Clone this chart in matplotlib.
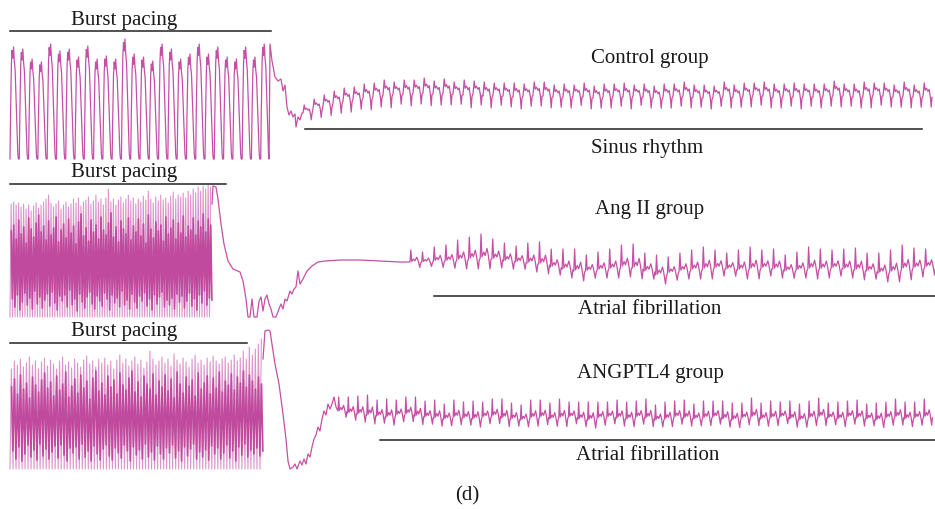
import numpy as np
import matplotlib
matplotlib.use("Agg")
import matplotlib.pyplot as plt

# ---- beat shapes (fraction of period, relative level) ----
pace_shape_x = [0.0, 0.06, 0.15, 0.22, 0.3, 0.38, 0.46, 0.55, 0.7, 0.84, 0.9]
pace_shape_y = [0.0, 0.4, 0.85, 0.97, 0.9, 1.0, 0.88, 0.8, 0.4, 0.05, 0.0]

sinus_shape_x = [0.0, 0.12, 0.22, 0.35, 0.5, 0.62, 0.74, 0.82, 0.9]
sinus_shape_y = [0.0, -1.0, -0.45, -0.6, -0.35, -0.5, 0.1, 0.85, 0.1]

af_shape_x = [0.0, 0.07, 0.15, 0.3, 0.42, 0.58, 0.68, 0.84, 0.92]
af_shape_y = [0.0, -1.0, -0.05, -0.25, -0.1, -0.4, -0.15, 0.45, 0.05]

# ---- Control group ----
ctrl_pace_tops = [48, 50, 60, 63, 45, 52, 50, 58, 47, 60, 57, 60, 40, 55,
                  58, 62, 45, 50, 60, 55, 45, 55, 48, 58, 60, 48, 58, 45]
ctrl_pace_bottom = 160
ctrl_drop_x = [270, 272, 275, 278, 281, 283, 285, 287, 289, 291, 293, 295, 296, 298, 300, 302]
ctrl_drop_y = [45, 62, 78, 82, 80, 92, 86, 108, 116, 112, 118, 115, 128, 118, 121, 114]
ctrl_sinus_base = [114, 110, 107, 104, 102, 100, 99, 97, 96, 95, 95, 94,
                   94, 95, 94, 95, 96, 95, 97, 96, 97, 98, 97, 96,
                   97, 98, 98, 97, 98, 99, 98, 97, 98, 97, 98, 99,
                   98, 97, 97, 98, 99, 98, 97, 98, 97, 96, 97, 98,
                   97, 98, 97, 98, 97, 96, 97, 98, 97, 96, 97, 98, 97, 98, 97]
ctrl_sinus_amp = [8, 10, 11, 12, 13, 12, 14, 13, 15, 12, 14, 13,
                  15, 13, 14, 12, 15, 13, 14, 12, 13, 14, 12, 13,
                  14, 12, 13, 11, 14, 12, 13, 12, 14, 11, 13, 12,
                  13, 12, 14, 12, 13, 11, 14, 12, 13, 12, 14, 13,
                  12, 14, 12, 13, 12, 14, 12, 13, 14, 12, 13, 12, 14, 12, 13]

# ---- Ang II group ----
ang_pace_tops = [205, 203, 206, 204, 208, 205, 210, 206, 212, 207, 204, 209,
                 206, 203, 200, 196, 204, 208, 205, 202, 210, 206, 203, 208,
                 205, 200, 204, 199, 207, 203, 201, 198, 205, 202, 196, 203,
                 200, 206, 199, 190, 203, 200, 206, 201, 198, 204, 200, 196,
                 202, 199, 205, 200, 203, 197, 201, 192, 200, 204, 198, 202,
                 196, 201, 199, 204, 197, 193, 200, 196, 198, 194, 199, 192,
                 196, 190, 194, 188, 192, 187, 190, 186, 188]
ang_pace_bottom = 318
ang_dark_top = [232, 226, 240, 221, 235, 228, 244, 219, 230, 238,
                224, 216, 233, 227, 241, 222, 236, 229, 218, 243,
                231, 225, 239, 220, 234, 227, 245, 223, 215, 237,
                229, 242, 221, 233, 226, 240, 218, 231, 236, 224,
                214, 238, 228, 243, 222, 230, 235, 219, 241, 227,
                233, 220, 237, 225, 244, 216, 230, 239, 223, 232,
                226, 242, 218, 235, 229, 221, 240, 224, 234, 217,
                238, 227, 231, 219, 236, 222, 228, 215, 233, 220, 226]
ang_dark_bot = [300, 308, 296, 311, 303, 294, 306, 299, 310, 292,
                305, 298, 309, 301, 295, 307, 293, 304, 311, 297,
                302, 296, 308, 291, 306, 300, 312, 295, 303, 309,
                298, 293, 305, 310, 297, 302, 307, 294, 300, 311,
                296, 304, 299, 308, 292, 306, 301, 310, 295, 303,
                309, 297, 302, 294, 307, 300, 311, 296, 305, 298,
                293, 308, 301, 306, 299, 310, 295, 303, 297, 309,
                302, 294, 307, 300, 311, 296, 304, 292, 306, 299, 301]
ang_drop_x = [212, 213, 216, 218, 221, 224, 228, 233, 240, 243, 246, 248, 250, 252,
              254, 257, 259, 261, 263, 265, 267, 269, 271, 273, 276, 279, 281, 283,
              285, 287, 290, 292, 294, 296, 298, 300, 303, 307, 312, 318, 325, 340,
              360, 380, 400, 410]
ang_drop_y = [205, 187, 188, 200, 225, 245, 262, 270, 273, 282, 300, 318, 318, 300,
              318, 318, 302, 298, 312, 300, 296, 305, 310, 318, 318, 310, 305, 310,
              300, 302, 292, 295, 290, 288, 272, 285, 280, 272, 267, 263, 262, 261,
              261, 262, 263, 263]
ang_af_base = [263, 263, 262, 262, 261, 260, 259, 260, 262, 263, 264, 265,
               268, 270, 272, 272, 271, 270, 268, 269, 272, 276, 274, 272,
               271, 270, 269, 270, 271, 270, 269, 270, 272, 271, 270, 270,
               269, 270, 271, 272, 274, 273, 270, 269, 268]
ang_af_amp = [12, 10, 14, 16, 20, 22, 24, 20, 18, 16, 20, 22,
              18, 20, 22, 16, 18, 20, 22, 24, 18, 20, 16, 18,
              20, 22, 18, 16, 20, 22, 18, 20, 16, 18, 22, 20,
              18, 20, 22, 18, 20, 22, 24, 20, 18]

# ---- ANGPTL4 group ----
angp_pace_tops = [370, 362, 366, 360, 368, 364, 358, 366, 362, 370, 363, 359,
                  367, 361, 365, 370, 362, 358, 366, 363, 369, 360, 364, 368,
                  361, 357, 365, 362, 368, 360, 364, 359, 366, 362, 370, 361,
                  356, 364, 360, 367, 362, 358, 365, 361, 369, 363, 352, 360,
                  366, 362, 358, 364, 360, 367, 355, 361, 365, 359, 363, 368,
                  360, 356, 364, 361, 366, 359, 363, 357, 362, 365, 360, 358,
                  364, 361, 356, 362, 359, 352, 360, 348, 356, 350, 345, 340]
angp_pace_bottom = 470
angp_dark_top = [388, 380, 395, 376, 390, 384, 399, 378, 386, 393,
                 381, 374, 389, 383, 397, 377, 391, 385, 373, 398,
                 387, 380, 394, 376, 389, 382, 400, 379, 372, 392,
                 384, 396, 377, 388, 381, 395, 374, 386, 391, 379,
                 372, 393, 383, 398, 377, 385, 390, 375, 396, 382,
                 388, 376, 392, 380, 399, 373, 385, 394, 378, 387,
                 381, 397, 374, 390, 384, 377, 395, 379, 389, 373,
                 393, 382, 386, 375, 391, 378, 384, 372, 388, 376,
                 382, 390, 378, 385]
angp_dark_bot = [452, 460, 448, 462, 455, 446, 458, 451, 461, 445,
                 457, 450, 460, 453, 447, 459, 446, 456, 462, 449,
                 454, 448, 460, 445, 458, 452, 462, 447, 455, 461,
                 450, 446, 457, 461, 449, 454, 459, 446, 452, 462,
                 448, 456, 451, 460, 445, 458, 453, 461, 447, 455,
                 460, 449, 454, 446, 459, 452, 462, 448, 457, 450,
                 445, 460, 453, 458, 451, 461, 447, 455, 449, 460,
                 454, 446, 459, 452, 462, 448, 456, 445, 458, 451,
                 455, 449, 457, 452]
angp_drop_x = [263, 265, 268, 270, 272, 275, 279, 283, 286, 288, 290, 293, 295, 297,
               300, 302, 304, 306, 308, 310, 312, 314, 316, 318, 320, 322, 324, 326,
               328, 330, 332, 334, 336, 338]
angp_drop_y = [360, 332, 331, 332, 345, 365, 385, 415, 440, 462, 470, 468, 465, 470,
               462, 466, 460, 465, 455, 458, 448, 440, 436, 428, 432, 420, 412, 416,
               405, 410, 405, 398, 408, 412]
angp_af_base = [412, 414, 415, 416, 417, 418, 416, 415, 417, 418, 419, 420,
                418, 419, 420, 418, 417, 419, 420, 421, 419, 418, 420, 419,
                418, 420, 421, 419, 418, 419, 420, 418, 419, 421, 420, 418,
                419, 420, 419, 418, 420, 421, 419, 418, 420, 419, 418, 420,
                421, 419, 418, 419, 420, 418, 419, 420, 421, 419, 418, 420, 419, 418]
angp_af_amp = [14, 16, 18, 20, 16, 18, 15, 17, 19, 16, 18, 15,
               17, 16, 18, 15, 17, 19, 16, 15, 18, 17, 16, 19,
               15, 17, 18, 16, 15, 18, 17, 16, 19, 15, 17, 16,
               18, 15, 17, 16, 18, 17, 15, 19, 16, 17, 15, 18,
               16, 17, 19, 15, 17, 16, 18, 15, 17, 16, 18, 17, 16, 18]

trace_color = "#c64fa6"
light_color = "#dc95cc"
dark_color = "#c04a9e"


def pacing(x0, x1, tops, bottom, sx, sy):
    period = (x1 - x0) / len(tops)
    xs, ys = [], []
    for i, top in enumerate(tops):
        for fx, fy in zip(sx, sy):
            xs.append(x0 + (i + fx) * period)
            ys.append(bottom - fy * (bottom - top))
    return xs, ys


def beats(x0, period, bases, amps, sx, sy):
    xs, ys = [], []
    for i, (b, a) in enumerate(zip(bases, amps)):
        for fx, fy in zip(sx, sy):
            xs.append(x0 + (i + fx) * period)
            ys.append(b + fy * a)
    return xs, ys


def dense_block(ax, x0, x1, tops, bottom, dtops, dbots):
    # light full-swing zigzag with a darker inner zigzag on top
    period = (x1 - x0) / len(tops)
    xs, ys = [], []
    for i, top in enumerate(tops):
        xs += [x0 + i * period, x0 + (i + 0.45) * period]
        ys += [bottom, top]
    ax.plot(xs, ys, color=light_color, lw=0.8)
    xs, ys = [], []
    for i, (dt, db) in enumerate(zip(dtops, dbots)):
        xs += [x0 + (i + 0.5) * period, x0 + (i + 0.95) * period]
        ys += [dt, db]
    ax.plot(xs, ys, color=dark_color, lw=1.2)


fig = plt.figure(figsize=(9.35, 5.10), dpi=100)
ax = fig.add_axes([0, 0, 1, 1])
ax.set_xlim(0, 935)
ax.set_ylim(510, 0)
ax.axis("off")

# control
px, py = pacing(10, 270, ctrl_pace_tops, ctrl_pace_bottom, pace_shape_x, pace_shape_y)
sx, sy = beats(303, 10.0, ctrl_sinus_base, ctrl_sinus_amp, sinus_shape_x, sinus_shape_y)
ax.plot(px + ctrl_drop_x + sx, py + ctrl_drop_y + sy, color=trace_color, lw=0.9)

# ang II
dense_block(ax, 10, 212, ang_pace_tops, ang_pace_bottom, ang_dark_top, ang_dark_bot)
sx, sy = beats(410, 11.7, ang_af_base, ang_af_amp, af_shape_x, af_shape_y)
ax.plot(ang_drop_x + sx, ang_drop_y + sy, color=trace_color, lw=0.9)

# ANGPTL4
dense_block(ax, 10, 263, angp_pace_tops, angp_pace_bottom, angp_dark_top, angp_dark_bot)
sx, sy = beats(338, 9.6, angp_af_base, angp_af_amp, af_shape_x, af_shape_y)
ax.plot(angp_drop_x + sx, angp_drop_y + sy, color=trace_color, lw=0.9)

# bars and labels
font = dict(family="Liberation Serif", fontsize=15, color="#1a1a1a",
            ha="center", va="center")
bars = [(10, 271, 32), (305, 922, 130), (10, 226, 185), (434, 935, 297),
        (10, 247, 344), (380, 935, 441)]
for xa, xb, yy in bars:
    ax.plot([xa, xb], [yy, yy], color="#222222", lw=1.1)

ax.text(124, 20, "Burst pacing", **font)
ax.text(650, 59, "Control group", **font)
ax.text(647, 149, "Sinus rhythm", **font)
ax.text(124, 173, "Burst pacing", **font)
ax.text(650, 210, "Ang II group", **font)
ax.text(650, 310, "Atrial fibrillation", **font)
ax.text(124, 332, "Burst pacing", **font)
ax.text(650, 374, "ANGPTL4 group", **font)
ax.text(648, 456, "Atrial fibrillation", **font)
ax.text(467, 496, "(d)", **font)

fig.savefig("out.png", dpi=100)
